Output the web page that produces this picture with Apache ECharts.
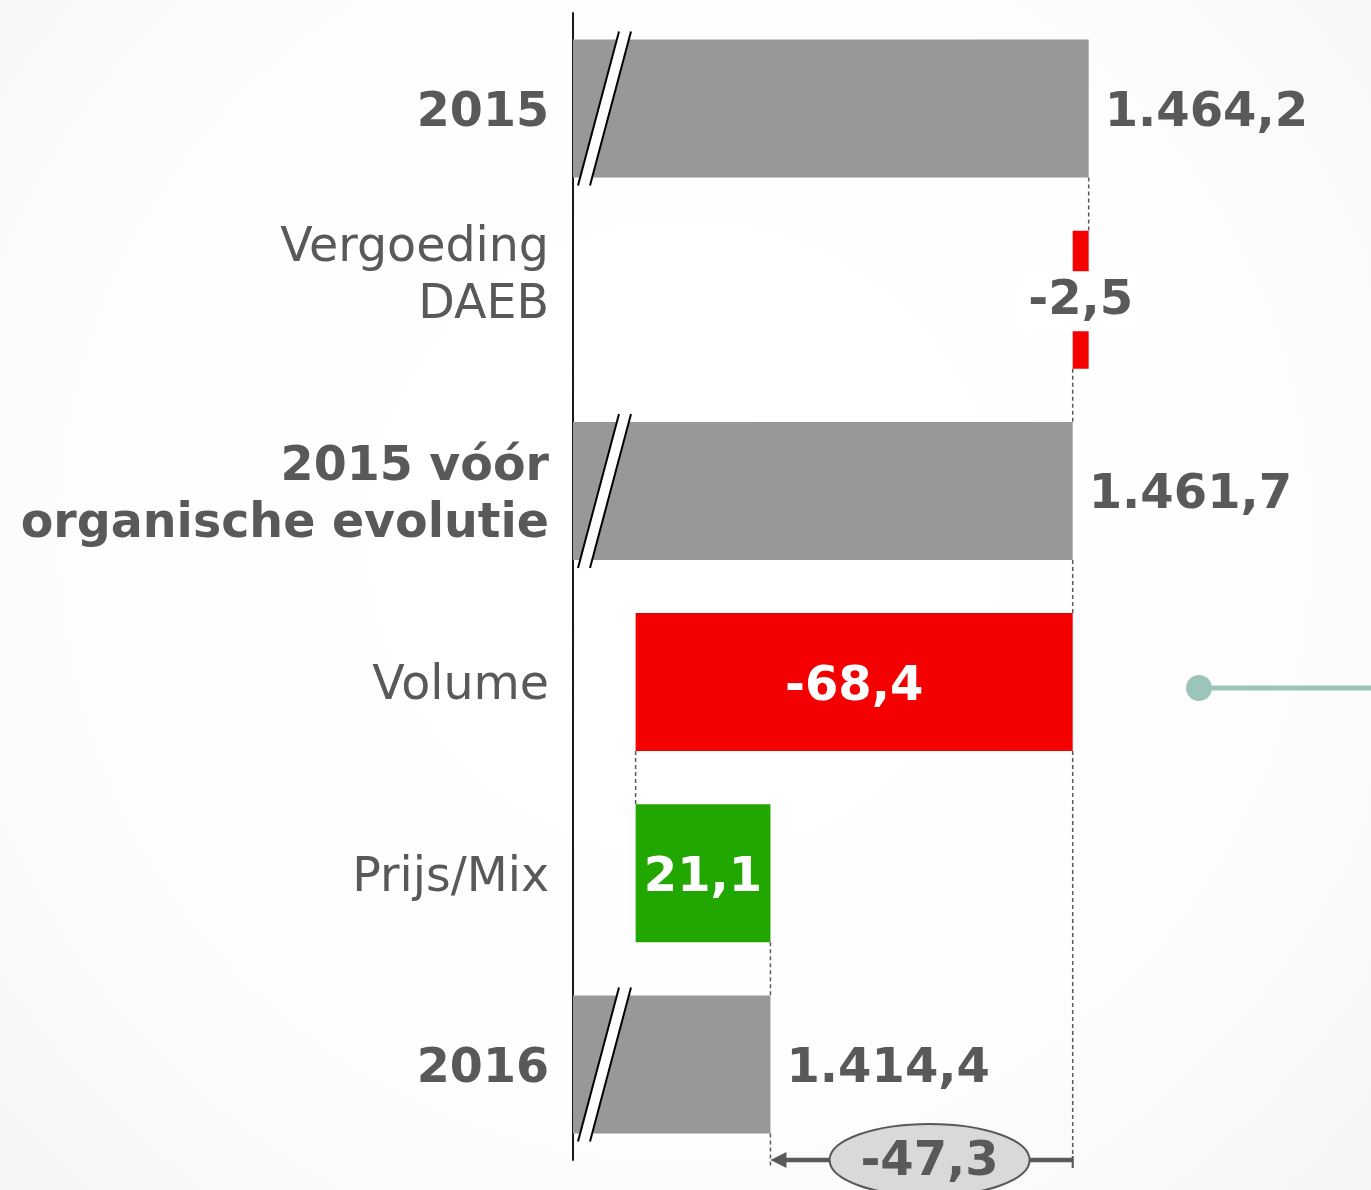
<!DOCTYPE html>
<html>
<head>
<meta charset="utf-8">
<script src="https://cdn.jsdelivr.net/npm/echarts@6/dist/echarts.min.js"></script>
<style>
html,body{margin:0;padding:0;background:#fff;}
#c{width:1371px;height:1190px;}
</style>
</head>
<body>
<div id="c"></div>
<script>
// ---- data ----
const categories = ['2015', 'Vergoeding\nDAEB', '2015 vóór\norganische evolutie', 'Volume', 'Prijs/Mix', '2016'];
const values = [1464.2, -2.5, 1461.7, -68.4, 21.1, 1414.4];
const isTotal = [true, false, true, false, false, true];
const valueLabels = ['1.464,2', '-2,5', '1.461,7', '-68,4', '21,1', '1.414,4'];
const diffValue = -47.3;
const diffLabel = '-47,3';
const refTotalIndex = 2;   // total the difference is measured from
const axisMin = 1383.5;
const axisMax = 1483.5;

// ---- derived waterfall extents ----
const starts = [], ends = [];
let run = 0;
values.forEach((v, i) => {
  if (isTotal[i]) { starts.push(axisMin); ends.push(v); run = v; }
  else { starts.push(run); ends.push(run + v); run = run + v; }
});
const helper = values.map((v, i) => isTotal[i] ? 0 : Math.min(starts[i], ends[i]));
const visible = values.map((v, i) => isTotal[i] ? v : Math.abs(v));

const GRAY = '#989898', RED = '#f50000', GREEN = '#22a600', TXT = '#595959';
const FONT = 'DejaVu Sans';
const BAR_RATIO = 0.722;

const chart = echarts.init(document.getElementById('c'), null, {renderer: 'canvas'});

const visData = visible.map((v, i) => {
  let color = isTotal[i] ? GRAY : (values[i] < 0 ? RED : GREEN);
  let label;
  if (isTotal[i]) {
    label = {show: true, position: 'right', distance: 16, color: TXT};
  } else if (i === 1) {
    label = {show: true, position: 'inside', color: TXT, backgroundColor: '#ffffff',
      padding: [10, 6, 2, 6], offset: [0, 1.5]};
  } else {
    label = {show: true, position: 'inside', color: '#ffffff'};
  }
  return {value: v, itemStyle: {color: color}, label: label};
});

function catLabel(value, index) {
  const style = isTotal[index] ? 'b' : 'n';
  const lines = value.split('\n').map(l => '{' + style + '|' + l + '}');
  if (index === 1) lines.push('{s| }');
  else lines.unshift('{t| }');
  return lines.join('\n');
}

function renderDeco(params, api) {
  const i = api.value(0);
  const band = api.size([0, 1])[1];
  const barH = band * BAR_RATIO;
  const cy = api.coord([axisMin, i])[1];
  const x0 = api.coord([axisMin, i])[0];
  const children = [];
  const lineStyle = {stroke: TXT, lineWidth: 1.5, lineDash: [4, 3]};
  // break marks on total bars
  if (isTotal[i]) {
    const yb = cy + barH / 2 + 8, yt = cy - barH / 2 - 8;
    children.push({type: 'polygon', shape: {points: [[x0 + 5, yb], [x0 + 46, yt], [x0 + 58, yt], [x0 + 17, yb]]},
      style: {fill: '#ffffff'}});
    children.push({type: 'line', shape: {x1: x0 + 5, y1: yb, x2: x0 + 46, y2: yt}, style: {stroke: '#000', lineWidth: 2}});
    children.push({type: 'line', shape: {x1: x0 + 17, y1: yb, x2: x0 + 58, y2: yt}, style: {stroke: '#000', lineWidth: 2}});
  }
  // connector to next bar
  if (i < values.length - 1) {
    const xe = api.coord([ends[i], i])[0];
    const ny = api.coord([axisMin, i + 1])[1];
    children.push({type: 'line', shape: {x1: xe, y1: cy + barH / 2, x2: xe, y2: ny - barH / 2}, style: lineStyle});
  }
  // difference bracket under the last total
  if (i === values.length - 1) {
    const yA = cy + band / 2;
    const xRef = api.coord([ends[refTotalIndex], i])[0];
    const xEnd = api.coord([ends[refTotalIndex] + diffValue, i])[0];
    const yRefStart = api.coord([axisMin, refTotalIndex + 1])[1] + barH / 2;
    children.push({type: 'line', shape: {x1: xRef, y1: yRefStart, x2: xRef, y2: yA + 8}, style: lineStyle});
    children.push({type: 'line', shape: {x1: xEnd, y1: cy + barH / 2, x2: xEnd, y2: yA + 8}, style: lineStyle});
    children.push({type: 'line', shape: {x1: xEnd + 14, y1: yA, x2: xRef, y2: yA}, style: {stroke: TXT, lineWidth: 4.5}});
    children.push({type: 'polygon', shape: {points: [[xEnd, yA], [xEnd + 16, yA - 8], [xEnd + 16, yA + 8]]}, style: {fill: TXT}});
    children.push({type: 'line', shape: {x1: xRef, y1: yA - 4, x2: xRef, y2: yA + 8}, style: {stroke: TXT, lineWidth: 2}});
    const mx = (xRef + xEnd) / 2 + 8;
    children.push({type: 'ellipse', shape: {cx: mx, cy: yA, rx: 100, ry: 36},
      style: {fill: '#d9d9d9', stroke: TXT, lineWidth: 2}});
    children.push({type: 'text', x: mx, y: yA + 3, style: {text: diffLabel, fill: TXT,
      font: 'bold 48px "' + FONT + '"', align: 'center', verticalAlign: 'middle'}});
  }
  return {type: 'group', children: children};
}

chart.setOption({
  backgroundColor: {type: 'radial', x: 0.5, y: 0.45, r: 0.8,
    colorStops: [{offset: 0, color: '#ffffff'}, {offset: 0.6, color: '#fefefe'}, {offset: 1, color: '#f5f5f5'}]},
  animation: false,
  textStyle: {fontFamily: FONT},
  grid: {left: 573, top: 13, width: 639, height: 1147},
  xAxis: {type: 'value', min: axisMin, max: axisMax, show: false},
  yAxis: {
    type: 'category', inverse: true, data: categories,
    axisLine: {show: true, lineStyle: {color: '#1a1a1a', width: 2}},
    axisTick: {show: false},
    splitLine: {show: false},
    axisLabel: {
      margin: 24, formatter: catLabel,
      rich: {
        b: {fontFamily: FONT, fontWeight: 'bold', fontSize: 47.5, color: TXT, lineHeight: 57},
        n: {fontFamily: FONT, fontWeight: 'normal', fontSize: 47.5, color: TXT, lineHeight: 57},
        s: {fontSize: 8, lineHeight: 45},
        t: {fontSize: 8, lineHeight: 10}
      }
    }
  },
  series: [
    {type: 'bar', stack: 'w', data: helper, barWidth: (BAR_RATIO * 100) + '%',
      itemStyle: {color: 'rgba(0,0,0,0)'}, silent: true},
    {type: 'bar', stack: 'w', data: visData, barWidth: (BAR_RATIO * 100) + '%',
      label: {fontFamily: FONT, fontWeight: 'bold', fontSize: 48, offset: [0, 5],
        formatter: p => valueLabels[p.dataIndex]}},
    {type: 'custom', z: 5, data: categories.map((c, i) => [i]), encode: {y: 0},
      renderItem: renderDeco, silent: true}
  ],
  graphic: [
    {type: 'line', shape: {x1: 1199, y1: 688, x2: 1371, y2: 688}, style: {stroke: '#9dc4bb', lineWidth: 5}},
    {type: 'circle', shape: {cx: 1199, cy: 688, r: 13}, style: {fill: '#9dc4bb'}}
  ]
});
</script>
</body>
</html>
